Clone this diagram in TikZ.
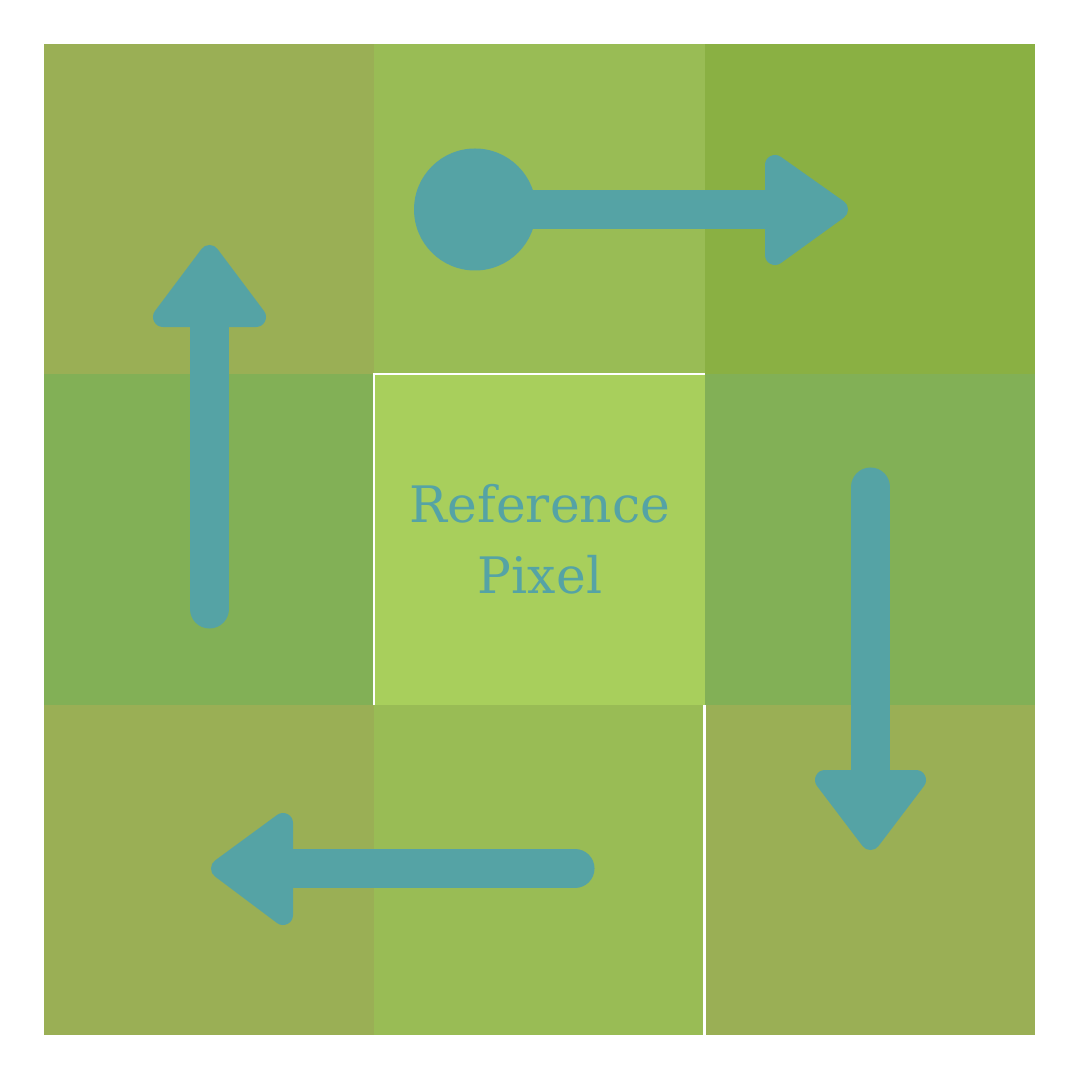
\documentclass[tikz,border=0pt]{standalone}
\usepackage{fontspec}
\setmainfont{DejaVu Serif}
\usepackage{tikz}
\usetikzlibrary{positioning}
\definecolor{arrowteal}{HTML}{55A3A5}
\definecolor{cellA}{HTML}{9AAF55}
\definecolor{cellB}{HTML}{99BC55}
\definecolor{cellC}{HTML}{8AB043}
\definecolor{cellD}{HTML}{82B056}
\definecolor{cellE}{HTML}{A8CF5C}
\tikzstyle{shaft} = [draw=arrowteal, line width=0.39cm, line cap=round]
\tikzstyle{head} = [fill=arrowteal, draw=arrowteal, line width=0.2cm, line join=round]
\tikzstyle{label} = [text=arrowteal, inner sep=0pt, anchor=base, font=\fontsize{14.3}{20}\selectfont]

\begin{document}
\begin{tikzpicture}[x=0.01cm, y=-0.01cm]
			\useasboundingbox [fill=white] (0, 0) rectangle (1080, 1080);
			% the nine pixels
			\fill [cellA] (44, 44) rectangle (374, 374);
			\fill [cellB] (374, 44) rectangle (705, 374);
			\fill [cellC] (705, 44) rectangle (1035, 374);
			\fill [cellD] (44, 374) rectangle (374, 705);
			\fill [cellE] (374, 374) rectangle (705, 705);
			\fill [cellD] (705, 374) rectangle (1035, 705);
			\fill [cellA] (44, 705) rectangle (374, 1035);
			\fill [cellB] (374, 705) rectangle (705, 1035);
			\fill [cellA] (705, 705) rectangle (1035, 1035);
			\draw [white, line width=0.6pt] (374, 705) -- (374, 374) -- (705, 374);
			\draw [white, line width=0.6pt] (704.5, 705) -- (704.5, 1035);
			
			\node [label] (ref) at (540, 522) {Reference};
			\node [label] (pix) at (540, 593) {Pixel};
			
			% top: from the dot to the right
			\coordinate (t1) at (475, 209.5);
			\coordinate (t2) at (775, 209.5);
			\fill [arrowteal] (t1) circle (61);
			\path [shaft] (t1) -- (t2);
			\path [head] (775, 165) -- (838, 209.5) -- (775, 255) -- cycle;
			
			% right: down
			\coordinate (r1) at (870.5, 487);
			\coordinate (r2) at (870.5, 780);
			\path [shaft] (r1) -- (r2);
			\path [head] (825, 780) -- (916, 780) -- (870.5, 840) -- cycle;
			
			% bottom: to the left
			\coordinate (b1) at (575, 868.5);
			\coordinate (b2) at (283, 868.5);
			\path [shaft] (b1) -- (b2);
			\path [head] (283, 823) -- (283, 915) -- (221, 868.5) -- cycle;
			
			% left: up
			\coordinate (l1) at (209.5, 609);
			\coordinate (l2) at (209.5, 317);
			\path [shaft] (l1) -- (l2);
			\path [head] (163, 317) -- (256, 317) -- (209.5, 255) -- cycle;
		\end{tikzpicture}
\end{document}
